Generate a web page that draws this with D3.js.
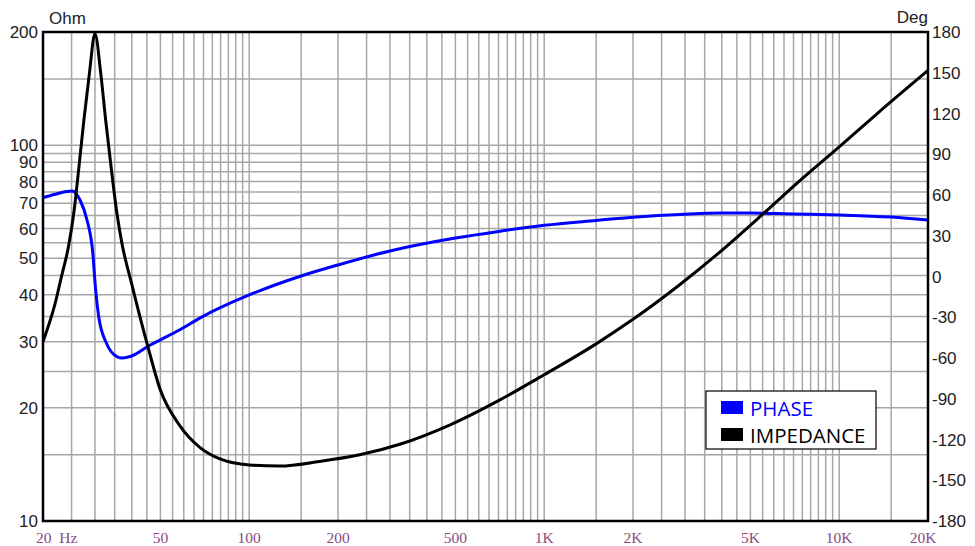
<!DOCTYPE html>
<html>
<head>
<meta charset="utf-8">
<script src="https://cdn.jsdelivr.net/npm/d3@7"></script>
<style>
  body { margin: 0; background: #fff; }
  svg { display: block; }
</style>
</head>
<body>
<div id="chart"></div>
<script>
// impedance curve (Hz, Ohm)
var impFreq = [20, 22, 23.1, 24.4, 25.5, 26.2, 27.5, 28.7, 30, 31.4, 32.6, 34, 35.6, 37, 40, 45.4, 50, 58, 68, 80, 100, 127, 173, 237, 324, 478, 708, 1000, 1500, 2000, 2865, 3900, 5600, 7230, 10000, 13400, 20000];
var impOhm = [30, 38, 44.7, 53.7, 67, 81, 116, 154, 198, 155, 117, 88, 66, 55, 42.6, 29, 22.3, 18, 15.7, 14.6, 14.1, 14.0, 14.4, 15.0, 16.0, 18.0, 21.0, 24.5, 29.6, 34.4, 42.4, 51.6, 66.3, 79.5, 99, 121, 158];

// phase curve (Hz, deg)
var phaseFreq = [20, 22, 24, 25.1, 26.7, 28.2, 29.5, 30.1, 30.9, 32.8, 35.6, 37.1, 40, 46.2, 50, 58, 68, 100, 150, 200, 300, 500, 700, 1000, 1500, 2000, 3000, 4000, 5000, 7000, 10000, 15000, 20000];
var phaseDeg = [58, 60.5, 62.5, 63, 56.3, 41.6, 17.3, -7.5, -29.6, -49, -59, -60, -58.5, -50.4, -46.6, -39.4, -30.6, -13.6, 0.4, 8.5, 18.8, 28.3, 33.2, 37.7, 41.3, 43.7, 45.9, 46.7, 46.7, 46, 45.3, 43.8, 41.6];

// tick labels
var xTicks = [20, 50, 100, 200, 500, 1000, 2000, 5000, 10000, 20000];
var xTickLabels = ['20  Hz', '50', '100', '200', '500', '1K', '2K', '5K', '10K', '20K'];
var ohmTicks = [10, 20, 30, 40, 50, 60, 70, 80, 90, 100, 200];
var degTicks = [-180, -150, -120, -90, -60, -30, 0, 30, 60, 90, 120, 150, 180];

var legendNames = ['PHASE', 'IMPEDANCE'];
var legendColors = ['#0000ff', '#000000'];

var margin = {top: 32, right: 47, bottom: 25, left: 43},
    width = 975 - margin.left - margin.right,
    height = 546 - margin.top - margin.bottom;

var svg = d3.select('#chart')
  .append('svg')
    .attr('width', 975)
    .attr('height', 546)
  .append('g')
    .attr('transform', 'translate(' + margin.left + ',' + margin.top + ')');

var x = d3.scaleLog().domain([20, 20000]).range([0, width]);
var yOhm = d3.scaleLog().domain([10, 200]).range([height, 0]);
var yDeg = d3.scaleLinear().domain([-180, 180]).range([height, 0]);

// grid steps: 1, 1.5 then 2..10 by 0.5 in each decade
var steps = [1, 1.5, 2, 2.5, 3, 3.5, 4, 4.5, 5, 5.5, 6, 6.5, 7, 7.5, 8, 8.5, 9, 9.5];
function gridValues(lo, hi) {
  var out = [];
  [1, 10, 100, 1000, 10000].forEach(function(k) {
    steps.forEach(function(m) {
      var v = m * k;
      if (v > lo && v < hi) out.push(v);
    });
  });
  return out;
}
var xGrid = gridValues(20, 20000);
var yGrid = gridValues(10, 200);

svg.append('g')
  .selectAll('line')
  .data(xGrid)
  .enter().append('line')
    .attr('x1', function(d) { return x(d); })
    .attr('x2', function(d) { return x(d); })
    .attr('y1', 0)
    .attr('y2', height)
    .style('stroke', '#a6a6a6')
    .style('stroke-width', 1.5);

svg.append('g')
  .selectAll('line')
  .data(yGrid)
  .enter().append('line')
    .attr('x1', 0)
    .attr('x2', width)
    .attr('y1', function(d) { return yOhm(d); })
    .attr('y2', function(d) { return yOhm(d); })
    .style('stroke', '#a6a6a6')
    .style('stroke-width', 1.5);

// curves
var impData = impFreq.map(function(f, i) { return [f, impOhm[i]]; });
var phaseData = phaseFreq.map(function(f, i) { return [f, phaseDeg[i]]; });

svg.append('path')
  .datum(phaseData)
  .attr('d', d3.line()
    .x(function(d) { return x(d[0]); })
    .y(function(d) { return yDeg(d[1]); })
    .curve(d3.curveMonotoneX))
  .style('fill', 'none')
  .style('stroke', '#0000ff')
  .style('stroke-width', 3);

svg.append('path')
  .datum(impData)
  .attr('d', d3.line()
    .x(function(d) { return x(d[0]); })
    .y(function(d) { return yOhm(d[1]); })
    .curve(d3.curveMonotoneX))
  .style('fill', 'none')
  .style('stroke', '#000')
  .style('stroke-width', 3);

// frame
svg.append('rect')
  .attr('x', 0)
  .attr('y', 0)
  .attr('width', width)
  .attr('height', height)
  .style('fill', 'none')
  .style('stroke', '#000')
  .style('stroke-width', 2.5);

// left axis labels
svg.append('g')
  .selectAll('text')
  .data(ohmTicks)
  .enter().append('text')
    .attr('x', -5)
    .attr('y', function(d) { return yOhm(d); })
    .attr('dy', '0.36em')
    .style('font-family', '"Liberation Sans", Arial, sans-serif')
    .style('font-size', '17px')
    .style('fill', '#222')
    .style('text-anchor', 'end')
    .text(function(d) { return d; });

// right axis labels
svg.append('g')
  .selectAll('text')
  .data(degTicks)
  .enter().append('text')
    .attr('x', width + 4)
    .attr('y', function(d) { return yDeg(d); })
    .attr('dy', '0.36em')
    .style('font-family', '"Liberation Sans", Arial, sans-serif')
    .style('font-size', '17px')
    .style('fill', '#222')
    .style('text-anchor', 'start')
    .text(function(d) { return d; });

svg.append('text')
  .attr('x', 6)
  .attr('y', -8)
  .style('font-family', '"Liberation Sans", Arial, sans-serif')
  .style('font-size', '17px')
  .style('fill', '#222')
  .text('Ohm');

svg.append('text')
  .attr('x', width)
  .attr('y', -9)
  .style('font-family', '"Liberation Sans", Arial, sans-serif')
  .style('font-size', '17px')
  .style('fill', '#222')
  .style('text-anchor', 'end')
  .text('Deg');

// bottom labels
svg.append('g')
  .selectAll('text')
  .data(xTicks)
  .enter().append('text')
    .attr('x', function(d, i) {
      if (i === 0) return -7;
      if (i === xTicks.length - 1) return x(d) - 5;
      return x(d);
    })
    .attr('y', height + 22)
    .style('font-family', '"Liberation Serif", "Times New Roman", serif')
    .style('font-size', '15.5px')
    .style('fill', '#8a4a80')
    .style('text-anchor', function(d, i) { return i === 0 ? 'start' : 'middle'; })
    .style('white-space', 'pre')
    .attr('xml:space', 'preserve')
    .text(function(d, i) { return xTickLabels[i]; });

// legend
var legend = svg.append('g')
  .attr('transform', 'translate(' + (706 - margin.left) + ',' + (391 - margin.top) + ')');

legend.append('rect')
  .attr('width', 170)
  .attr('height', 58)
  .style('fill', '#fff')
  .style('stroke', '#000')
  .style('stroke-width', 1.2);

var rows = legend.selectAll('g.row')
  .data(legendNames)
  .enter().append('g')
    .attr('class', 'row')
    .attr('transform', function(d, i) { return 'translate(0,' + (i * 27) + ')'; });

rows.append('rect')
  .attr('x', 15)
  .attr('y', 10)
  .attr('width', 22)
  .attr('height', 13)
  .style('fill', function(d, i) { return legendColors[i]; });

rows.append('text')
  .attr('x', 44)
  .attr('y', 24.5)
  .style('font-family', '"Open Sans", sans-serif')
  .style('font-size', '20.5px')
  .style('fill', function(d, i) { return legendColors[i]; })
  .text(function(d) { return d; });
</script>
</body>
</html>
